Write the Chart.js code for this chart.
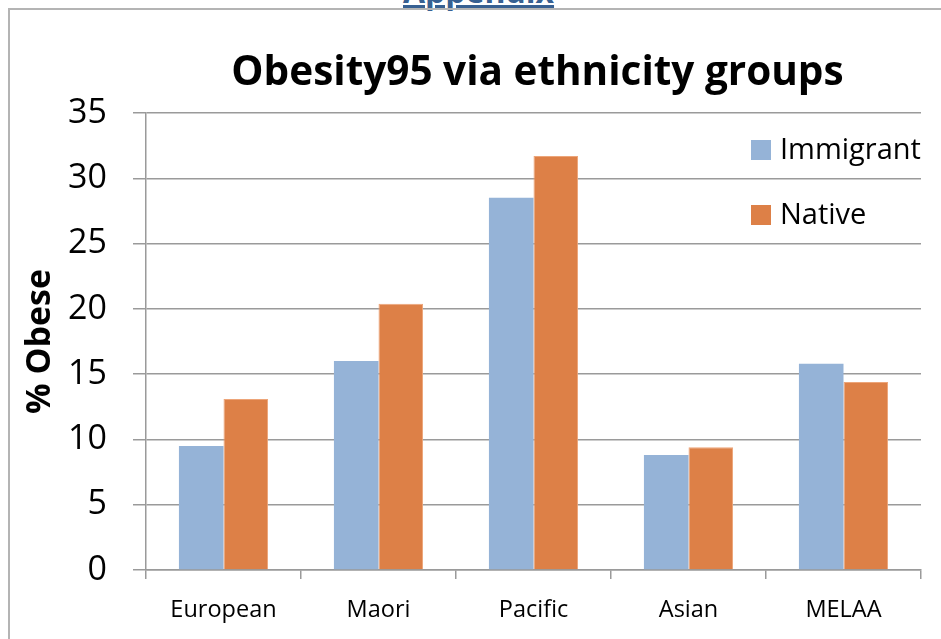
<!DOCTYPE html>
<html>
<head>
<meta charset="utf-8">
<script src="https://cdn.jsdelivr.net/npm/chart.js@4.4.1/dist/chart.umd.min.js"></script>
<style>
  body { margin: 0; background: #fff; }
  #wrap { position: relative; width: 941px; height: 639px; overflow: hidden; }
  #frame { position: absolute; left: 8px; top: 8px; width: 1100px; height: 800px; border: 2px solid #b4b4b4; }
  #head { position: absolute; left: 403px; top: -25px; font: bold 32px "Open Sans"; line-height: 32px; color: #376092; text-decoration: underline; text-decoration-thickness: 3px; }
  canvas { position: absolute; left: 0; top: 0; }
</style>
</head>
<body>
<div id="wrap">
  <div id="head">Appendix</div>
  <div id="frame"></div>
  <canvas id="myChart" width="941" height="639"></canvas>
</div>
<script>
//chart data
const chartTitle = 'Obesity95 via ethnicity groups';
const groups = ['European', 'Maori', 'Pacific', 'Asian', 'MELAA'];
const immigrant = [9.5, 16.0, 28.5, 8.8, 15.8];
const native = [13.1, 20.4, 31.7, 9.4, 14.4];
const yTicks = [0, 5, 10, 15, 20, 25, 30, 35];

const canvasElement = document.getElementById('myChart');

//title drawn over the plot area
const titlePlugin = {
  id: 'titlePlugin',
  afterDraw(chart) {
    const ctx = chart.ctx;
    const area = chart.chartArea;
    ctx.save();
    ctx.font = 'bold 40.5px "Open Sans"';
    ctx.fillStyle = '#000';
    ctx.textAlign = 'center';
    ctx.textBaseline = 'alphabetic';
    ctx.fillText(chartTitle, (area.left + area.right) / 2 + 4, 85);
    ctx.restore();
  }
};

//legend inside the plot, top right
const legendPlugin = {
  id: 'legendPlugin',
  afterDraw(chart) {
    const ctx = chart.ctx;
    const area = chart.chartArea;
    ctx.save();
    ctx.font = '29px "Open Sans"';
    ctx.textBaseline = 'middle';
    ctx.textAlign = 'left';
    chart.data.datasets.forEach((ds, i) => {
      const x = area.right - 170;
      const y = area.top + 27 + i * 65;
      ctx.fillStyle = ds.backgroundColor;
      ctx.fillRect(x, y, 20, 20);
      ctx.fillStyle = '#000';
      ctx.fillText(ds.label, x + 29, y + 11);
    });
    ctx.restore();
  }
};

let config = {
  type: 'bar',
  data: {
    labels: groups,
    datasets: [{
      label: 'Immigrant',
      data: immigrant,
      backgroundColor: '#95b3d7',
      borderWidth: 0
    }, {
      label: 'Native',
      data: native,
      backgroundColor: '#dd8047',
      borderColor: '#eda579',
      borderWidth: 1
    }]
  },
  options: {
    responsive: false,
    animation: false,
    layout: {
      padding: { left: 0, top: 113, right: 20, bottom: 0 }
    },
    barPercentage: 1,
    categoryPercentage: 0.575,
    scales: {
      x: {
        afterFit(scale) { scale.height = 69; },
        grid: { drawOnChartArea: false, offset: true, tickLength: 9, color: '#9a9a9a', lineWidth: 1.5 },
        border: { color: '#9a9a9a', width: 1.5 },
        ticks: { color: '#000', font: { family: 'Open Sans', size: 23.5 }, padding: 17 }
      },
      y: {
        min: 0,
        max: 35,
        afterFit(scale) { scale.width = 146; },
        afterBuildTicks(scale) { scale.ticks = yTicks.map(v => ({ value: v })); },
        grid: { tickLength: 13, color: '#9a9a9a', lineWidth: 1.5 },
        border: { color: '#9a9a9a', width: 1.5 },
        ticks: { color: '#000', font: { family: 'Open Sans', size: 34 }, padding: 26 },
        title: {
          display: true,
          text: '% Obese',
          color: '#000',
          font: { family: 'Open Sans', size: 34, weight: 'bold' },
          padding: { top: 20, bottom: 0 }
        }
      }
    },
    plugins: {
      legend: { display: false },
      title: { display: false },
      tooltip: { enabled: false }
    }
  },
  plugins: [titlePlugin, legendPlugin]
};

let newChart = new Chart(canvasElement, config);
</script>
</body>
</html>
